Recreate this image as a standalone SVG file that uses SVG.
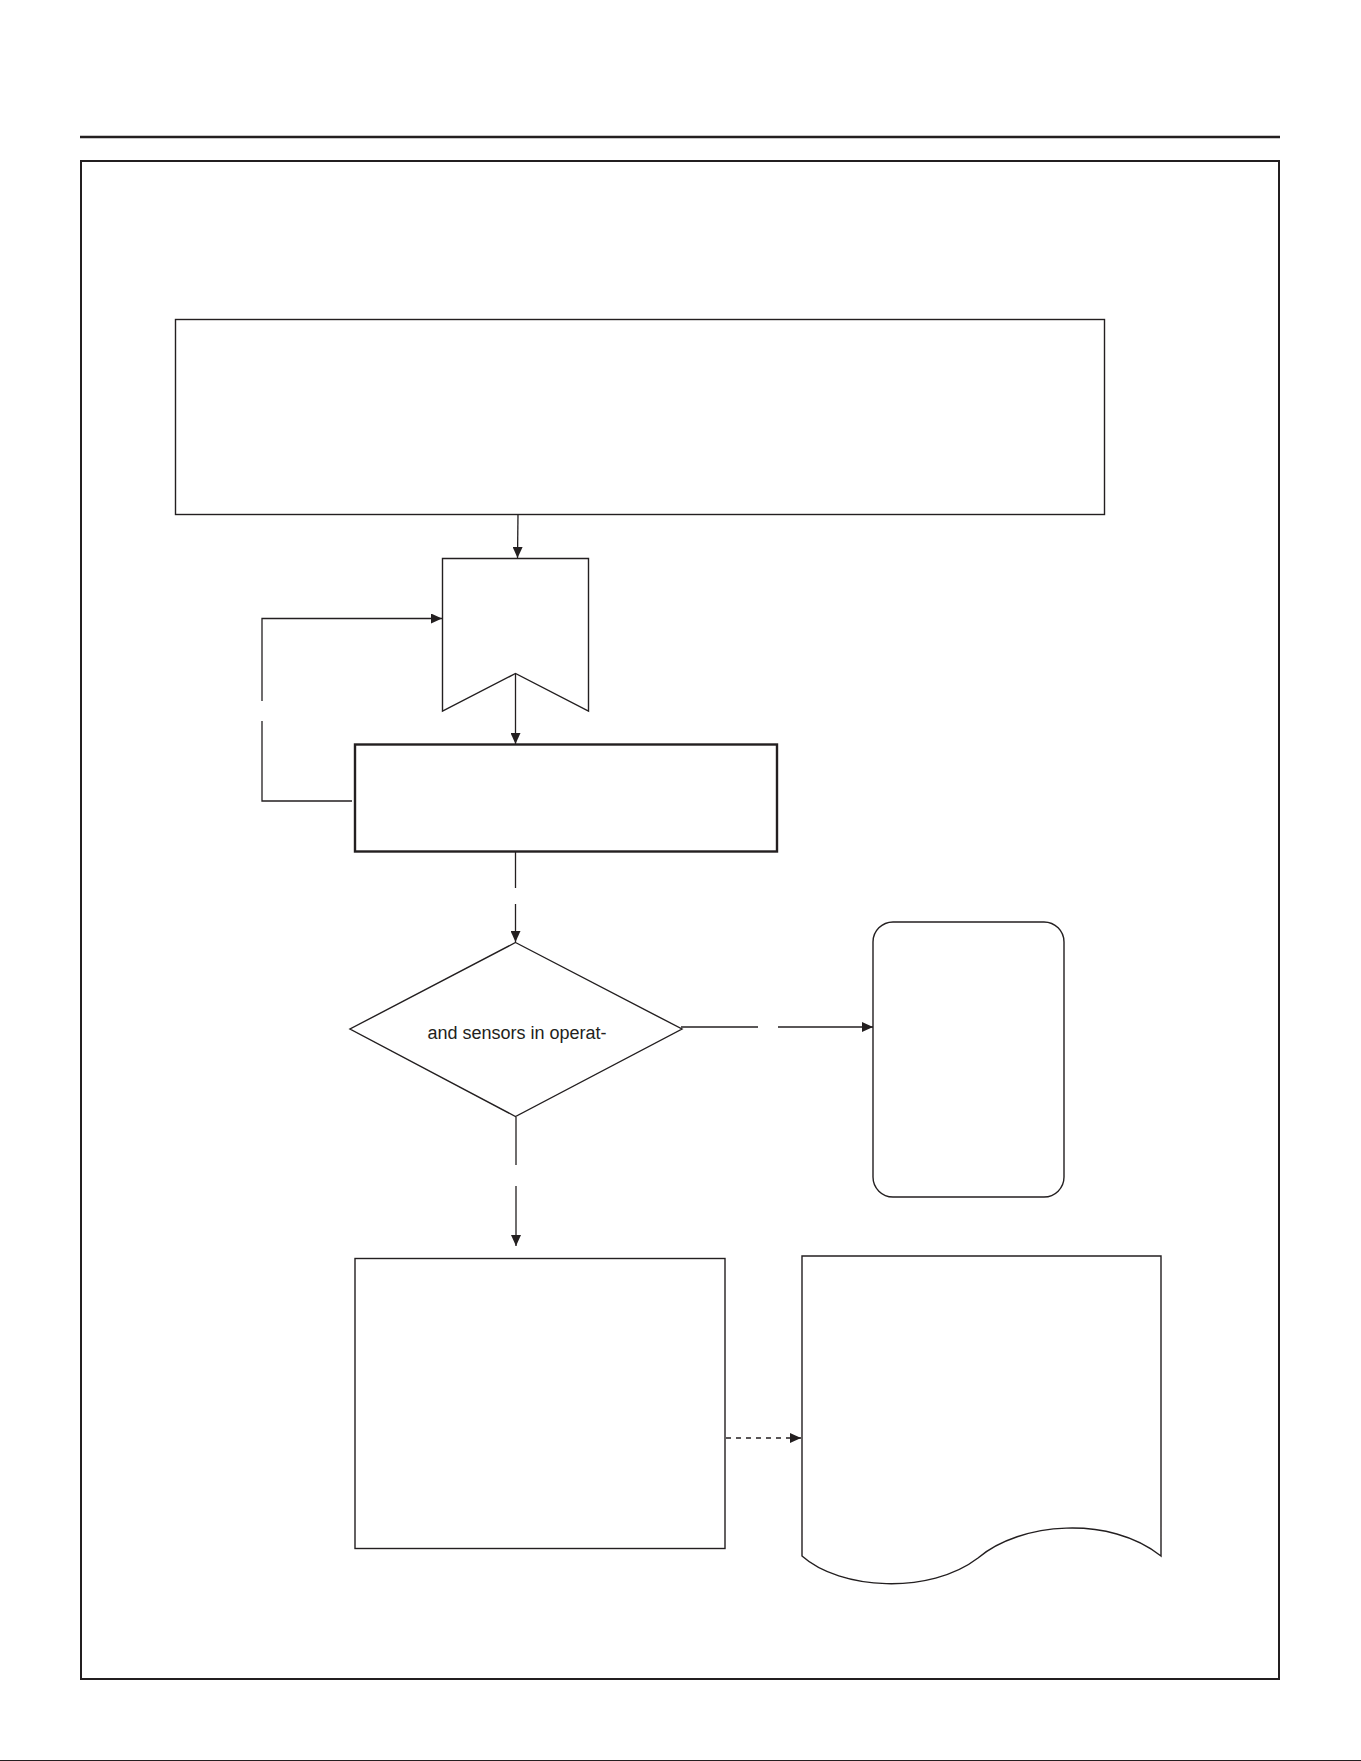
<svg xmlns="http://www.w3.org/2000/svg" width="1361" height="1761" viewBox="0 0 1361 1761">
<style>
.n{fill:#fff;stroke:#231f20;stroke-width:1.4}
.thick{stroke-width:2.4}
.c{fill:none;stroke:#231f20;stroke-width:1.3}
.d{stroke-dasharray:5 5}
.t{font-family:"Liberation Sans",Arial,sans-serif;font-size:18px;fill:#231f20;text-anchor:middle}
</style>
<defs>
<marker id="ah" viewBox="0 0 11 10" refX="11" refY="5" markerWidth="11" markerHeight="10" markerUnits="userSpaceOnUse" orient="auto">
<path d="M0,0 L11,5 L0,10 Z" fill="#231f20"/>
</marker>
</defs>
<rect width="1361" height="1761" fill="#fff"/>
<g id="page">
<line x1="80" y1="137" x2="1280" y2="137" stroke="#231f20" stroke-width="2.5"/>
<rect x="81" y="161" width="1198" height="1518" fill="none" stroke="#231f20" stroke-width="2"/>
<line x1="0" y1="1760.5" x2="1361" y2="1760.5" stroke="#231f20" stroke-width="1"/>
</g>
<g id="connectors">
<path class="c" d="M518,514 L517.5,558" marker-end="url(#ah)"/>
<path class="c" d="M515.5,674 L515.5,744" marker-end="url(#ah)"/>
<path class="c" d="M352,801 L262,801 L262,721"/>
<path class="c" d="M262,701 L262,618.5 L442,618.5" marker-end="url(#ah)"/>
<path class="c" d="M515.5,852 L515.5,888"/>
<path class="c" d="M515.5,904 L515.5,942" marker-end="url(#ah)"/>
<path class="c" d="M681,1027 L758,1027"/>
<path class="c" d="M778,1027 L873,1027" marker-end="url(#ah)"/>
<path class="c" d="M516,1117 L516,1165"/>
<path class="c" d="M516,1186 L516,1246" marker-end="url(#ah)"/>
<path class="c d" d="M726,1438 L801,1438" marker-end="url(#ah)"/>
</g>
<g id="node-top">
<rect class="n" x="175.5" y="319.5" width="929" height="195"/>
</g>
<g id="node-banner">
<path class="n" d="M442.5,558.5 L588.5,558.5 L588.5,711 L515.5,673.5 L442.5,711 Z"/>
</g>
<g id="node-process">
<rect class="n thick" x="355" y="744.5" width="422" height="107"/>
</g>
<g id="node-decision">
<path class="n" d="M515.5,942.5 L682,1029 L515.5,1116.5 L350,1029 Z"/>
<text class="t" x="517" y="1039">and sensors in operat-</text>
</g>
<g id="node-terminal">
<rect class="n" x="873" y="922" width="191" height="275" rx="20" ry="20"/>
</g>
<g id="node-bottom">
<rect class="n" x="355" y="1258.5" width="370" height="290"/>
</g>
<g id="node-document">
<path class="n" d="M802,1256 L1161,1256 L1161,1556 C1110,1515 1020,1522 978,1558 C930,1595 840,1590 802,1556 Z"/>
</g>
</svg>
